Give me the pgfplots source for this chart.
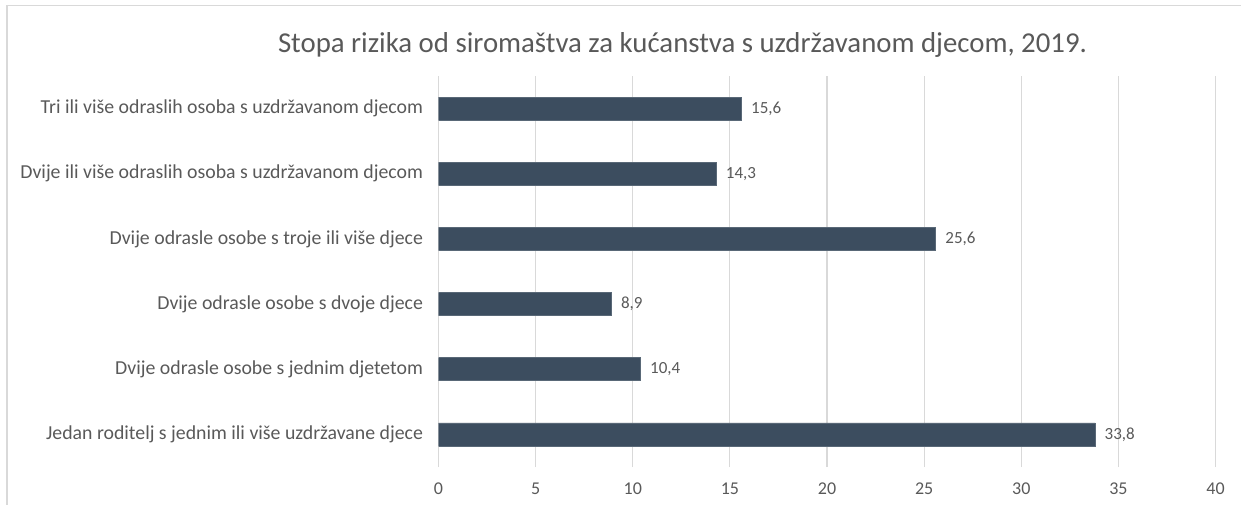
\documentclass[border=0pt]{standalone}
\usepackage{pgfplots}
\pgfplotsset{compat=1.18}
\usepackage{fontspec}
\setmainfont{Carlito}
\definecolor{barc}{HTML}{3C4D5F}
\definecolor{txt}{HTML}{595959}
\definecolor{gridc}{HTML}{D9D9D9}
\begin{document}
\begin{tikzpicture}[x=1pt,y=1pt]
\useasboundingbox (0,0) rectangle (1241,504);
\draw[gridc, line width=1.5pt] (7,-2) -- (7,498.5) -- (1243,498.5);
\node[txt, font=\fontsize{28.8}{34}\selectfont, anchor=center] at (682.5,459) {Stopa rizika od siromaštva za kućanstva s uzdržavanom djecom, 2019.};
\begin{axis}[
  at={(438.5pt,37pt)}, anchor=south west,
  scale only axis, width=777pt, height=391pt,
  xbar, bar width=23pt,
  xmin=0, xmax=40, ymin=-0.5, ymax=5.5,
  xtick={0,5,...,40},
  ytick={0,1,2,3,4,5},
  yticklabels={Jedan roditelj s jednim ili više uzdržavane djece,
    Dvije odrasle osobe s jednim djetetom,
    Dvije odrasle osobe s dvoje djece,
    Dvije odrasle osobe s troje ili više djece,
    Dvije ili više odraslih osoba s uzdržavanom djecom,
    Tri ili više odraslih osoba s uzdržavanom djecom},
  axis line style={draw=none},
  major tick length=0pt,
  xmajorgrids, ymajorgrids=false,
  grid style={gridc, line width=1.1pt},
  tick label style={txt},
  xticklabel style={yshift=-12pt, font=\fontsize{18}{21}\selectfont},
  yticklabel style={xshift=-12pt, font=\fontsize{19.8}{23}\selectfont},
  /pgf/number format/assume math mode=true,
  nodes near coords,
  nodes near coords style={txt, font=\fontsize{17}{20}\selectfont, anchor=west, xshift=6pt,
    /pgf/number format/.cd, fixed, fixed zerofill, precision=1, use comma, assume math mode=true},
]
\addplot[fill=barc, draw=barc!85!white, line width=0.6pt] coordinates {
  (33.8,0) (10.4,1) (8.9,2) (25.6,3) (14.3,4) (15.6,5)
};
\end{axis}
\end{tikzpicture}
\end{document}
